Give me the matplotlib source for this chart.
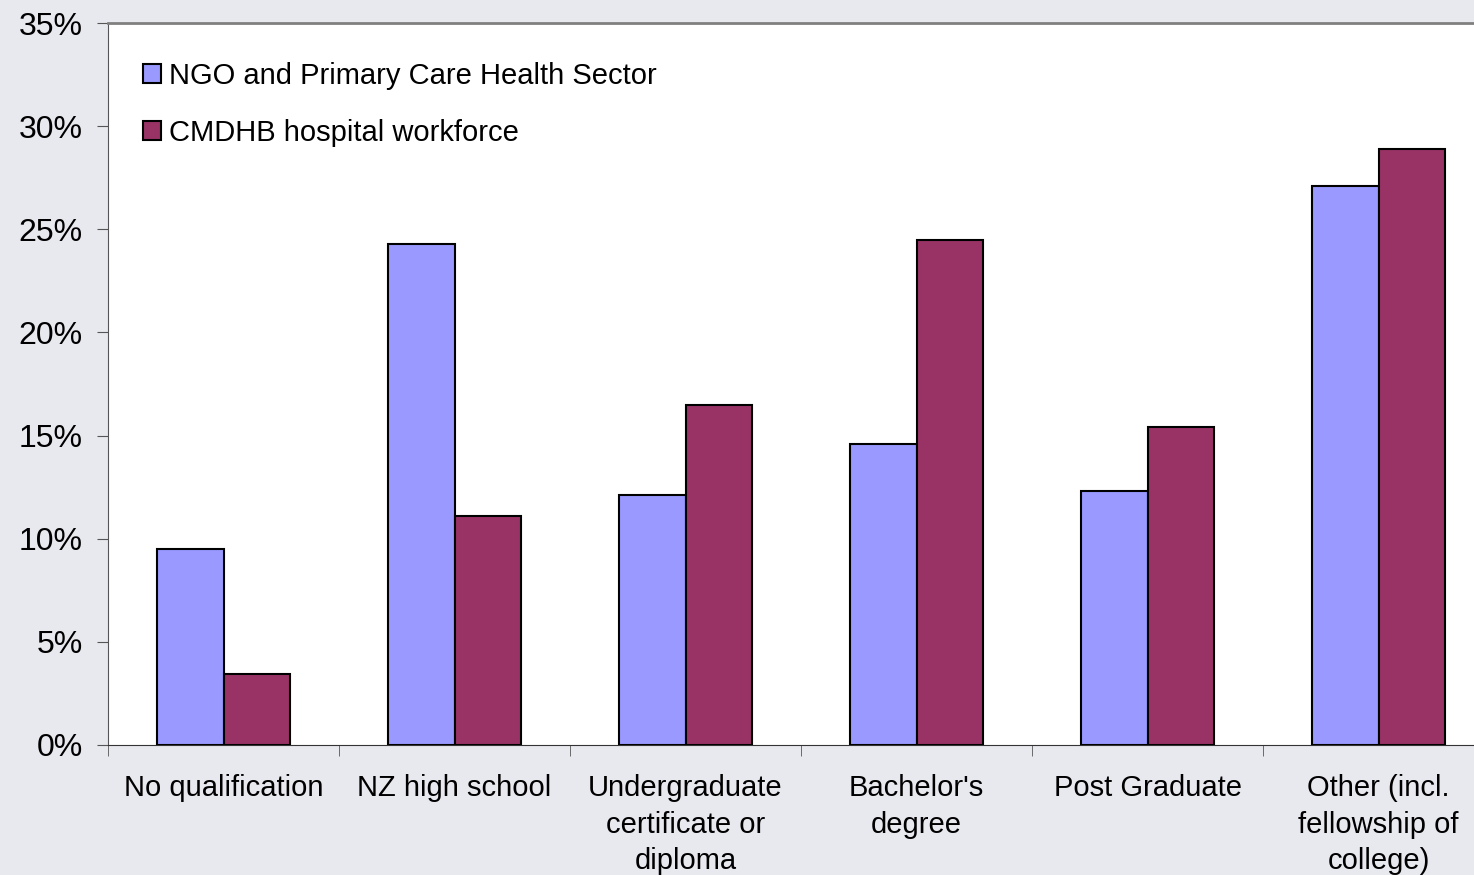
import numpy as np
import matplotlib.pyplot as plt
from matplotlib.ticker import FixedLocator, PercentFormatter

categories = ["No qualification", "NZ high school", "Undergraduate\ncertificate or\ndiploma",
              "Bachelor's\ndegree", "Post Graduate", "Other (incl.\nfellowship of\ncollege)"]
ngo = [9.5, 24.3, 12.1, 14.6, 12.3, 27.1]
cmdhb = [3.45, 11.1, 16.5, 24.5, 15.4, 28.9]
series_names = ["NGO and Primary Care Health Sector", "CMDHB hospital workforce"]

plt.rcParams['font.family'] = ['Liberation Sans', 'DejaVu Sans']

fig = plt.figure(figsize=(14.74, 8.75), dpi=100)
fig.patch.set_facecolor('#e8e8ef')
ax = fig.add_axes([108 / 1474, 1 - 745 / 875, 1386 / 1474, 722 / 875])
ax.set_facecolor('white')

x = np.arange(len(categories))
w = 0.286
ax.bar(x - w / 2, ngo, w, color='#9999ff', edgecolor='black', linewidth=1.5, label=series_names[0])
ax.bar(x + w / 2, cmdhb, w, color='#993366', edgecolor='black', linewidth=1.5, label=series_names[1])

ax.set_xlim(-0.5, 5.5)
ax.set_ylim(0, 35)
ax.set_yticks(np.arange(0, 36, 5))
ax.yaxis.set_major_formatter(PercentFormatter(decimals=0))
ax.set_xticks(x)
ax.set_xticklabels(categories, fontsize=21, linespacing=1.38, va='top')
ax.xaxis.set_minor_locator(FixedLocator(np.arange(-0.5, 6, 1)))
ax.tick_params(axis='x', which='major', length=0, pad=21)
ax.tick_params(axis='x', which='minor', length=8, direction='out', color='#555555')
ax.tick_params(axis='y', labelsize=23, length=8, direction='out', color='#555555', pad=10)

ax.spines['right'].set_visible(False)
ax.spines['top'].set_color('#808080')
ax.spines['top'].set_linewidth(2)
ax.spines['left'].set_color('#555555')
ax.spines['bottom'].set_color('#333333')

ax.legend(loc='upper left', bbox_to_anchor=(0.006, 0.983), frameon=False, fontsize=21,
          handlelength=0.62, handleheight=0.62, handletextpad=0.3, labelspacing=1.0)

fig.savefig('out.png', dpi=100, facecolor=fig.get_facecolor())
